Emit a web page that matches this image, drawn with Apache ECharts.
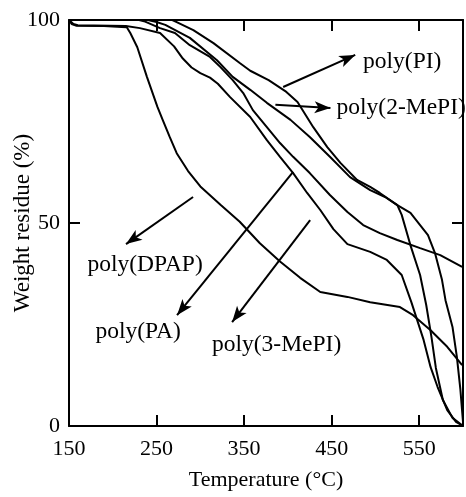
<!DOCTYPE html>
<html><head><meta charset="utf-8">
<script src="https://cdn.jsdelivr.net/npm/echarts@6/dist/echarts.min.js"></script>
<style>html,body{margin:0;padding:0;background:#fff}#c{width:466px;height:497px}</style>
</head><body><div id="c"></div>
<script>
// Temperature (°C) vs weight residue (%)
const xTickLabels = ['150','250','350','450','550'];
const yTickLabels = ['0','50','100'];
const seriesNames = ['poly(PI)','poly(2-MePI)','poly(PA)','poly(3-MePI)','poly(DPAP)'];

const polyPI = [[150,100],[268,100],[273,99.5],[292,97.5],[315,94.3],[345,89.4],[357,87.5],[378,85.2],[397,82.5],[411,79.8],[429,73.6],[445,68.7],[460,64.8],[479,60.6],[494,58.9],[505,57.4],[525,54.4],[540,52.5],[551,49.5],[560,47],[568,42.6],[576,36],[580,31],[588,24.4],[593,17],[597,9],[600,1]];
const poly2MePI = [[150,100],[240,100],[250,99.5],[260,98.8],[288,95.6],[319,90.1],[337,86],[357,82.8],[376,79.6],[403,75.4],[425,71.2],[448,66.3],[471,61.3],[494,58.1],[511,56.4],[525,54.4],[530,52],[540,44.5],[551,37.2],[558,29.8],[564,21.9],[569,14.3],[577,6.4],[588,2],[599,0.2]];
const polyPA = [[150,100],[230,100],[237,99.6],[254,98],[271,96.8],[288,93.8],[311,90.9],[323,88.4],[337,85.2],[349,82],[360,77.8],[376,73.6],[391,69.7],[406,66.3],[425,62.3],[448,56.9],[468,52.7],[486,49.5],[505,47.5],[525,45.8],[551,43.8],[574,42.1],[599,39.2]];
const poly3MePI = [[150,100],[155,99],[160,98.7],[215,98.5],[231,98],[254,96.8],[270,93.5],[280,90.5],[290,88.3],[300,86.9],[311,85.8],[320,84.3],[334,81],[357,76.1],[376,70.4],[391,66.3],[406,62.3],[422,57.4],[437,53.2],[452,48.5],[468,44.8],[494,42.9],[513,40.9],[530,37.2],[541,30.5],[555,21.2],[563,14.5],[571,9.6],[582,3.9],[592,1],[600,0]];
const polyDPAP = [[150,100],[153,99],[158,98.6],[190,98.5],[210,98.3],[216,98.2],[220,96.8],[228,93.3],[239,86],[251,78.6],[257,75.4],[265,71.2],[273,67.2],[286,62.8],[300,59],[323,54.5],[345,50.3],[368,45],[391,40.5],[414,36.5],[437,33],[468,31.8],[494,30.5],[528,29.3],[543,27.3],[563,23.6],[582,19.5],[599,15]];

const FONT = 'Liberation Serif';
const curveData = [polyPI, poly2MePI, polyPA, poly3MePI, polyDPAP];

const chart = echarts.init(document.getElementById('c'), null, {renderer:'canvas'});

const lineSeries = curveData.map((d, i) => ({
  name: seriesNames[i], type: 'line', data: d, showSymbol: false, symbol: 'none',
  lineStyle: {color: '#000', width: 2}, z: 3, animation: false
}));

function lbl(text, coord) {
  return {coord: coord, symbol: 'circle', symbolSize: 1, itemStyle: {color: 'rgba(0,0,0,0)'},
    label: {show: true, position: 'inside', formatter: text, color: '#000', fontSize: 23.5, fontFamily: FONT}};
}
function arr(a, b) { return [{coord: a}, {coord: b}]; }

const annotation = {
  type: 'line', data: [], animation: false, silent: true,
  markLine: {
    symbol: ['none', 'arrow'], symbolSize: [9, 16], silent: true, animation: false,
    lineStyle: {color: '#000', width: 2, type: 'solid'}, label: {show: false},
    data: [
      arr([394.6, 83.5], [476.9, 91.4]),
      arr([385.7, 79.1], [448.6, 78.3]),
      arr([291.7, 56.4], [215.1, 44.8]),
      arr([406, 62.6], [273.4, 27.3]),
      arr([425.4, 50.7], [336.3, 25.6])
    ]
  },
  markPoint: {
    silent: true, animation: false,
    data: [
      lbl(seriesNames[0], [530.6, 89.7]),
      lbl(seriesNames[1], [529.4, 78.3]),
      lbl('poly(DPAP)', [236.9, 39.7]),
      lbl(seriesNames[2], [228.9, 23.2]),
      lbl(seriesNames[3], [387.1, 20])
    ]
  }
};

const axisCommon = {
  type: 'value',
  axisLine: {show: true, onZero: false, lineStyle: {color: '#000', width: 2}},
  axisTick: {show: true, inside: true, length: 11, lineStyle: {color: '#000', width: 2}},
  splitLine: {show: false}
};

chart.setOption({
  backgroundColor: '#fff',
  animation: false,
  grid: {left: 69, right: 3, top: 20, bottom: 71, containLabel: false, outerBoundsMode: 'none'},
  xAxis: [
    Object.assign({}, axisCommon, {
      position: 'bottom', min: 150, max: 600, interval: 100,
      name: 'Temperature (°C)', nameLocation: 'middle', nameGap: 43,
      nameTextStyle: {color: '#000', fontSize: 22, fontFamily: FONT},
      axisLabel: {color: '#000', fontSize: 22, fontFamily: FONT, margin: 12,
        formatter: v => { const i = xTickLabels.indexOf(String(v)); return i >= 0 ? xTickLabels[i] : ''; }}
    }),
    Object.assign({}, axisCommon, {
      position: 'top', min: 150, max: 600, interval: 100, axisLabel: {show: false}
    })
  ],
  yAxis: [
    Object.assign({}, axisCommon, {
      position: 'left', min: 0, max: 100, interval: 50,
      name: 'Weight residue (%)', nameLocation: 'middle', nameGap: 35, nameRotate: 90,
      nameMoveOverlap: false,
      nameTextStyle: {color: '#000', fontSize: 23, fontFamily: FONT},
      axisLabel: {color: '#000', fontSize: 22, fontFamily: FONT, margin: 9,
        formatter: v => { const i = yTickLabels.indexOf(String(v)); return i >= 0 ? yTickLabels[i] : ''; }}
    }),
    Object.assign({}, axisCommon, {
      position: 'right', min: 0, max: 100, interval: 50, axisLabel: {show: false}
    })
  ],
  series: lineSeries.concat([annotation])
});
</script></body></html>
